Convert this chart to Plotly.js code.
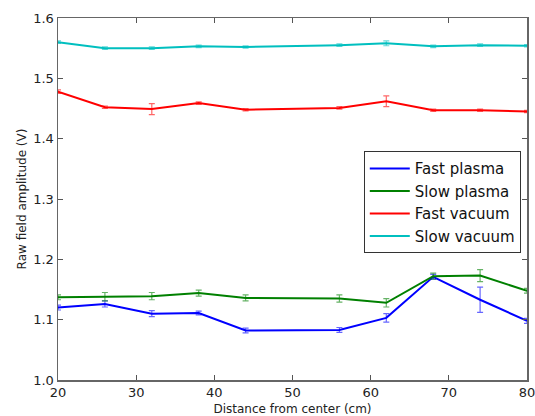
<!DOCTYPE html>
<html><head><meta charset="utf-8">
<script src="https://cdn.plot.ly/plotly-3.0.1.min.js"></script>
<style>html,body{margin:0;padding:0;background:#fff}#chart{width:535px;height:416px}</style>
</head><body><div id="chart"></div>
<script>
const distance = [20, 26, 32, 38, 44, 56, 62, 68, 74, 80];
const fastPlasma = [1.120, 1.126, 1.110, 1.111, 1.082, 1.083, 1.103, 1.171, 1.133, 1.098];
const fastPlasmaErr = [0.004, 0.005, 0.005, 0.003, 0.004, 0.004, 0.007, 0.004, 0.021, 0.004];
const slowPlasma = [1.137, 1.138, 1.139, 1.144, 1.136, 1.135, 1.128, 1.172, 1.173, 1.148];
const slowPlasmaErr = [0.004, 0.007, 0.006, 0.005, 0.005, 0.006, 0.007, 0.005, 0.010, 0.004];
const fastVacuum = [1.478, 1.452, 1.449, 1.459, 1.448, 1.451, 1.462, 1.447, 1.447, 1.445];
const fastVacuumErr = [0.003, 0.002, 0.009, 0.002, 0.002, 0.002, 0.009, 0.002, 0.002, 0.002];
const slowVacuum = [1.560, 1.550, 1.550, 1.553, 1.552, 1.555, 1.558, 1.553, 1.555, 1.554];
const slowVacuumErr = [0.002, 0.002, 0.002, 0.002, 0.002, 0.002, 0.004, 0.002, 0.002, 0.002];

const names = ['Fast plasma', 'Slow plasma', 'Fast vacuum', 'Slow vacuum'];
const colors = ['#0000ff', '#008000', '#ff0000', '#00bfbf'];
const errColors = ['rgba(0,0,255,0.6)', 'rgba(0,128,0,0.6)', 'rgba(255,0,0,0.6)', 'rgba(0,191,191,0.6)'];
const series = [fastPlasma, slowPlasma, fastVacuum, slowVacuum];
const errs = [fastPlasmaErr, slowPlasmaErr, fastVacuumErr, slowVacuumErr];

const traces = series.map((s, i) => ({
  x: distance, y: s, name: names[i], type: 'scatter', mode: 'lines',
  line: {color: colors[i], width: 2},
  error_y: {type: 'data', array: errs[i], visible: true, color: errColors[i], thickness: 1.2, width: 3}
}));

const tickFont = {family: 'DejaVu Sans, sans-serif', size: 13, color: '#222'};
const titleFont = {family: 'DejaVu Sans, sans-serif', size: 12, color: '#222'};
const layout = {
  width: 535, height: 416,
  margin: {l: 58, r: 8, t: 18, b: 36},
  paper_bgcolor: '#fff', plot_bgcolor: '#fff',
  font: tickFont,
  showlegend: true,
  legend: {x: 0.652, y: 0.632, xanchor: 'left', yanchor: 'top',
    bordercolor: '#333', borderwidth: 1, bgcolor: '#fff',
    font: {family: 'DejaVu Sans, sans-serif', size: 15, color: '#111'},
    itemwidth: 40, tracegroupgap: 0},
  xaxis: {range: [20, 80], tickvals: [20, 30, 40, 50, 60, 70, 80],
    ticks: 'inside', ticklen: 5, tickcolor: '#555', mirror: 'ticks',
    tickfont: tickFont, ticklabeloverflow: 'allow', automargin: false,
    showline: true, linecolor: '#666', linewidth: 1.5, showgrid: false, zeroline: false,
    title: {text: 'Distance from center (cm)', standoff: 6, font: titleFont}},
  yaxis: {range: [1.0, 1.6], tickvals: [1.0, 1.1, 1.2, 1.3, 1.4, 1.5, 1.6],
    ticktext: ['1.0', '1.1', '1.2', '1.3', '1.4', '1.5', '1.6'],
    ticks: 'inside', ticklen: 5, tickcolor: '#555', mirror: 'ticks',
    tickfont: tickFont, ticklabeloverflow: 'allow', automargin: false,
    showline: true, linecolor: '#666', linewidth: 1.5, showgrid: false, zeroline: false,
    title: {text: 'Raw field amplitude (V)', standoff: 4, font: titleFont}}
};
Plotly.newPlot('chart', traces, layout, {displayModeBar: false, staticPlot: true});
</script></body></html>
